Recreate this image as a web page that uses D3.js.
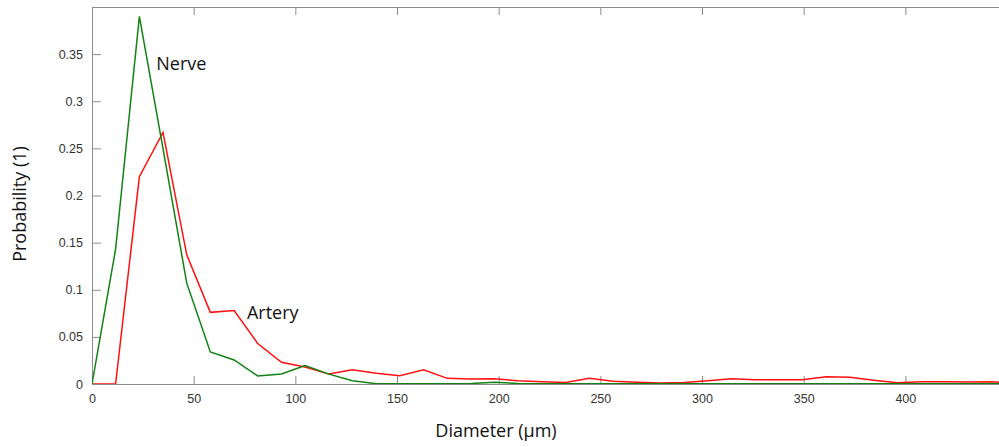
<!DOCTYPE html>
<html>
<head>
<meta charset="utf-8">
<script src="https://cdn.jsdelivr.net/npm/d3@7"></script>
<style>
  body { margin: 0; background: #fff; }
  .tick text { font-family: "Liberation Sans", Arial, sans-serif; font-size: 12.5px; fill: #333; }
  .tick line, .domain { stroke: #8c8c8c; }
  .lbl { font-family: "Open Sans", sans-serif; font-size: 18px; fill: #111; }
</style>
</head>
<body>
<div id="chart"></div>
<script>
/* diameter bins (um) */
const diameter = [0, 11.6, 23.3, 34.9, 46.6, 58.2, 69.9, 81.5, 93.2, 104.8,
  116.5, 128.1, 139.8, 151.4, 163.1, 174.7, 186.4, 198.0, 209.7, 221.3,
  233.0, 244.6, 256.3, 267.9, 279.6, 291.2, 302.9, 314.5, 326.2, 337.8,
  349.5, 361.1, 372.8, 384.4, 396.1, 407.7, 419.4, 431.0, 442.7, 454.3];

/* probability values */
const artery = [0, 0, 0.22, 0.267, 0.137, 0.076, 0.078, 0.043, 0.023, 0.018,
  0.0105, 0.015, 0.0115, 0.0088, 0.015, 0.006, 0.0053, 0.0055, 0.0035, 0.0025,
  0.0015, 0.006, 0.003, 0.0018, 0.001, 0.0015, 0.0035, 0.0055, 0.0045, 0.0045,
  0.0045, 0.0077, 0.0072, 0.004, 0.0012, 0.0025, 0.0025, 0.0022, 0.0025, 0];

const nerve = [0, 0.143, 0.39, 0.25, 0.107, 0.034, 0.0255, 0.0085, 0.0106, 0.0195,
  0.0105, 0.0035, 0.0003, 0.0003, 0.0003, 0.0002, 0.0005, 0.0018, 0.0005, 0.0002,
  0.0002, 0.0002, 0.0002, 0.0002, 0.0002, 0.0002, 0.0002, 0.0002, 0.0002, 0.0002,
  0.0002, 0.0002, 0.0002, 0.0002, 0.0002, 0.0002, 0.0002, 0.0002, 0.0002, 0.0002];

const xTicks = [0, 50, 100, 150, 200, 250, 300, 350, 400];
const yTicks = [0, 0.05, 0.1, 0.15, 0.2, 0.25, 0.3, 0.35];

const series = [
  { name: "Artery", values: artery, color: "#ff1010", lx: 76.2, ly: 0.0688 },
  { name: "Nerve", values: nerve, color: "#128212", lx: 31.6, ly: 0.333 }
];

const width = 999, height = 447,
    margin = ({ top: 7, right: -8, bottom: 63, left: 92 });

const svg = d3.select("#chart")
    .append("svg")
    .attr("width", width)
    .attr("height", height);

let x = d3.scaleLinear()
    .domain([0, 450])
    .range([margin.left, width - margin.right]);

let y = d3.scaleLinear()
    .domain([0, 0.4])
    .range([height - margin.bottom, margin.top]);

/* clip lines to plot area */
svg.append("clipPath").attr("id", "clip")
  .append("rect")
    .attr("x", x(0)).attr("y", y(0.4))
    .attr("width", x(450) - x(0)).attr("height", y(0) - y(0.4));

const fmt = d => String(+d.toFixed(2));

/* axes, ticks pointing inward */
svg.append("g")
  .attr("transform", `translate(0,${y(0)})`)
  .call(d3.axisBottom(x).tickValues(xTicks).tickFormat(fmt).tickSize(-8).tickSizeOuter(0).tickPadding(10));

svg.append("g")
  .attr("transform", `translate(0,${y(0.4)})`)
  .call(d3.axisTop(x).tickValues(xTicks).tickFormat("").tickSize(-8).tickSizeOuter(0));

svg.append("g")
  .attr("transform", `translate(${x(0)},0)`)
  .call(d3.axisLeft(y).tickValues(yTicks).tickFormat(fmt).tickSize(-9).tickSizeOuter(0).tickPadding(9));

svg.append("g")
  .attr("transform", `translate(${x(450)},0)`)
  .call(d3.axisRight(y).tickValues(yTicks).tickFormat("").tickSize(-8).tickSizeOuter(0));

/* lines */
let line = d3.line()
    .x((d, i) => x(diameter[i]))
    .y(d => y(d));

svg.selectAll(".series")
  .data(series)
  .join("path")
    .attr("class", "series")
    .attr("clip-path", "url(#clip)")
    .attr("d", d => line(d.values))
    .attr("fill", "none")
    .attr("stroke", d => d.color)
    .attr("stroke-width", 1.5);

svg.selectAll(".name")
  .data(series)
  .join("text")
    .attr("class", "lbl name")
    .attr("x", d => x(d.lx))
    .attr("y", d => y(d.ly))
    .text(d => d.name);

/* axis titles */
svg.append("text")
  .attr("class", "lbl")
  .attr("text-anchor", "middle")
  .attr("x", 496)
  .attr("y", 437)
  .text("Diameter (\u00b5m)");

svg.append("text")
  .attr("class", "lbl")
  .attr("text-anchor", "middle")
  .attr("transform", "translate(26,204) rotate(-90)")
  .text("Probability (1)");
</script>
</body>
</html>
